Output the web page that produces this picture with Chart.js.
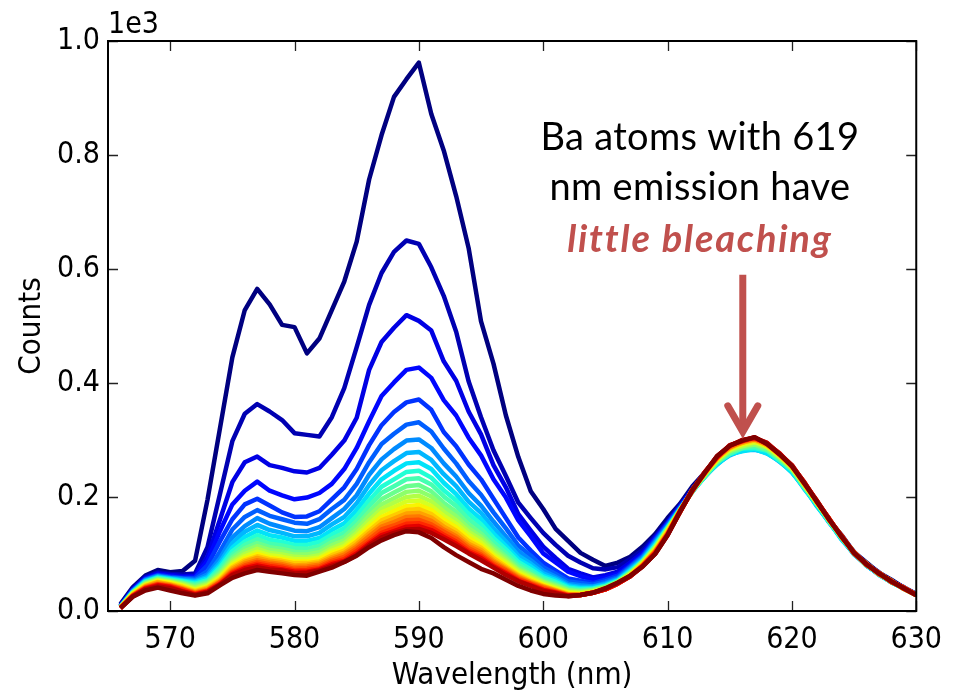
<!DOCTYPE html>
<html><head><meta charset="utf-8">
<script src="https://cdn.jsdelivr.net/npm/chart.js@4.4.1/dist/chart.umd.min.js"></script>
<style>html,body{margin:0;padding:0;background:#fff;}#wrap{width:953px;height:695px;}</style>
</head><body><div id="wrap"><canvas id="c" width="953" height="695"></canvas></div>
<script>
// ---- data ----
const wavelengths = [566,567,568,569,570,571,572,573,574,575,576,577,578,579,580,581,582,583,584,585,586,587,588,589,590,591,592,593,594,595,596,597,598,599,600,601,602,603,604,605,606,607,608,609,610,611,612,613,614,615,616,617,618,619,620,621,622,623,624,625,626,627,628,629,630];
const xTicks = [570,580,590,600,610,620,630];
const yTicks = [0,200,400,600,800,1000];
const xLabel = 'Wavelength (nm)';
const yLabel = 'Counts';
const offsetLabel = '1e3';
const noteLines = ['Ba atoms with 619', 'nm emission have'];
const noteEmph = 'little bleaching';

const spec01 = [12,42,62,72,68,70,88,195,320,445,528,565,538,502,498,452,478,528,578,648,757,835,902,933,962,872,808,728,637,508,434,343,270,210,179,144,123,102,90,79,85,95,113,135,163,188,219,243,267,279,291,292,287,271,251,221,193,159,133,103,85,67,55,41,30];
const spec02 = [10,40,60,68,65,64,66,112,205,298,346,363,350,335,312,309,306,340,391,463,537,593,630,650,644,603,553,490,403,340,282,237,190,163,137,116,97,85,75,73,77,91,107,131,157,186,215,243,264,283,287,292,283,271,248,221,189,161,129,104,82,68,52,42,29];
const spec03 = [9,38,58,66,63,61,62,95,160,226,261,271,256,251,245,243,251,274,299,339,423,472,497,519,509,492,438,404,350,310,256,217,170,141,113,93,74,66,59,63,69,85,102,129,155,184,213,241,261,280,285,290,281,269,247,220,188,160,128,103,81,67,51,41,28];
const spec04 = [9,37,57,64,61,59,60,88,140,187,211,227,211,203,196,199,207,223,249,286,333,377,401,423,427,409,370,343,304,273,231,199,159,131,101,85,69,61,55,59,65,81,99,127,154,183,212,239,259,278,283,288,279,267,246,219,187,159,127,102,80,66,50,41,28];
const spec05 = [9,36,56,63,60,58,58,80,122,161,187,197,185,173,165,166,175,196,217,249,291,326,349,366,371,353,314,289,257,231,197,163,129,106,85,71,57,53,49,55,62,79,97,125,153,182,211,239,259,277,282,287,278,266,245,218,186,158,127,102,80,65,51,40,28];
const spec06 = [8,36,55,62,59,57,56,70,104,143,165,177,167,161,155,153,161,179,195,223,261,293,311,327,331,315,285,259,228,204,173,145,115,97,77,65,52,49,46,52,59,77,95,123,151,181,210,238,258,276,281,286,277,265,244,217,185,157,126,101,80,64,51,40,28];
const spec07 = [8,35,54,61,58,56,54,64,92,129,149,163,153,147,141,140,147,163,179,203,239,266,284,299,301,286,259,236,207,185,157,131,105,89,71,60,48,45,43,49,57,75,93,121,149,180,210,236,259,275,282,285,277,264,245,216,186,156,127,100,80,64,51,39,28];
const spec08 = [8,34,53,60,57,54,52,60,85,119,139,151,142,137,131,131,137,152,165,189,221,247,263,277,279,265,240,219,192,172,145,122,97,83,66,57,45,42,42,47,55,73,91,119,147,178,211,235,259,273,282,283,278,262,245,214,187,155,128,99,81,63,51,39,28];
const spec09 = [7,34,52,59,56,53,50,57,80,111,130,141,133,129,123,123,128,142,154,177,206,231,246,259,261,249,225,205,180,161,136,114,91,78,62,54,43,40,40,45,54,71,89,116,147,179,209,237,257,275,280,284,276,263,243,216,184,156,125,101,79,65,50,40,28];
const spec10 = [7,33,51,58,55,52,48,54,76,105,122,133,125,121,116,116,121,134,145,167,194,218,231,244,246,234,212,194,170,152,128,108,86,73,59,51,41,38,39,44,53,69,88,115,146,177,211,236,261,275,285,286,281,264,247,216,188,156,129,100,82,64,52,39,28];
const spec11 = [7,33,50,57,54,50,46,52,72,99,116,126,118,115,110,109,114,127,137,158,184,207,219,231,233,222,201,184,161,144,121,102,81,69,56,48,39,36,38,43,52,68,87,113,145,176,211,236,262,276,286,288,283,266,249,217,189,157,128,102,80,66,50,40,28];
const spec12 = [7,32,49,56,53,49,44,50,68,94,110,119,112,109,104,103,108,121,130,150,174,196,208,219,221,210,190,174,152,136,114,96,77,65,53,46,37,35,37,42,51,67,86,112,144,178,210,239,261,280,286,292,283,269,248,220,188,160,128,103,81,66,51,40,28];
const spec13 = [7,32,48,55,52,48,42,48,65,90,105,114,107,104,99,99,103,115,124,143,167,187,198,209,211,201,182,166,145,130,109,92,73,63,51,44,36,34,36,41,51,65,87,110,143,175,212,238,265,280,290,292,287,269,251,219,191,158,130,101,83,64,52,39,28];
const spec14 = [6,31,47,54,51,46,40,46,62,86,100,109,102,99,95,94,98,110,119,137,159,179,190,200,202,192,174,159,139,125,105,88,71,60,50,42,34,32,35,40,50,66,84,111,141,177,210,241,264,283,289,296,287,272,250,222,189,161,129,103,81,67,51,41,28];
const spec15 = [6,31,46,53,50,45,38,44,60,83,96,104,98,95,91,91,94,106,114,132,153,173,182,192,194,184,167,153,134,120,100,85,68,58,47,40,33,31,34,40,50,64,84,108,142,175,213,240,267,283,293,296,290,271,253,221,192,159,131,101,83,65,53,39,28];
const spec16 = [6,30,45,52,49,43,36,42,57,80,92,100,94,91,87,87,91,102,110,126,147,165,175,184,186,177,160,147,128,115,96,81,65,55,46,38,31,30,33,39,49,63,83,107,140,176,211,242,266,286,293,300,289,274,252,224,190,161,129,103,81,67,51,41,28];
const spec17 = [6,29,44,51,47,42,35,41,55,77,89,96,91,88,84,84,87,98,106,122,141,159,168,177,179,170,154,141,123,111,93,78,63,53,44,37,30,29,33,39,49,63,82,106,138,174,213,241,269,285,296,299,292,273,254,222,193,160,132,101,83,65,53,39,28];
const spec18 = [6,28,43,50,46,40,33,39,53,74,86,93,88,85,80,81,84,94,102,117,136,153,162,171,172,164,148,136,118,107,89,75,61,51,43,36,29,29,32,39,49,62,81,105,137,176,211,243,268,288,295,302,291,275,253,225,191,162,130,103,81,67,51,41,28];
const spec19 = [6,28,42,48,45,39,32,37,51,71,83,89,85,82,77,78,81,91,99,113,131,148,156,165,166,158,143,131,114,103,86,73,59,50,42,35,28,28,32,38,48,62,80,104,136,174,213,242,271,287,298,301,294,274,255,223,193,160,132,101,83,65,53,39,28];
const spec20 = [5,27,41,47,44,38,31,36,50,69,80,86,82,79,74,75,78,88,95,109,126,143,150,159,160,152,139,127,110,99,83,71,57,48,40,34,28,28,32,38,48,61,80,103,135,176,211,244,269,290,297,304,293,276,254,226,192,162,130,103,81,67,51,41,28];
const spec21 = [5,27,40,46,43,37,30,35,48,67,77,83,79,76,71,72,75,85,91,105,121,137,145,153,154,147,134,122,106,96,80,68,55,47,38,33,27,28,32,38,48,61,79,102,134,173,213,242,272,289,300,303,295,275,256,224,194,160,132,101,83,65,53,39,28];
const spec22 = [5,26,39,45,42,35,29,34,47,65,75,80,76,73,69,69,73,82,88,101,118,133,140,148,149,142,130,118,103,93,78,66,53,45,37,32,27,28,32,38,48,61,79,101,134,175,211,244,270,291,298,305,293,277,254,226,192,162,130,103,81,67,51,41,28];
const spec23 = [5,26,38,43,40,34,28,33,46,63,72,77,73,71,66,67,71,79,86,98,115,129,137,143,144,137,126,114,101,89,76,63,52,44,35,31,26,28,32,39,49,61,78,100,133,174,213,243,272,290,300,304,295,276,256,225,194,161,132,102,82,66,52,40,28];
const spec24 = [5,25,36,41,36,31,27,31,45,58,66,72,69,66,63,62,69,76,86,97,112,124,133,140,138,128,112,98,86,74,66,55,44,36,30,27,26,28,32,40,50,62,78,100,133,174,212,243,272,290,299,305,293,275,254,224,192,160,130,102,82,66,52,40,28];

const spectra = [spec01,spec02,spec03,spec04,spec05,spec06,spec07,spec08,spec09,spec10,spec11,spec12,spec13,spec14,spec15,spec16,spec17,spec18,spec19,spec20,spec21,spec22,spec23,spec24];

// ---- styling ----
const FONT = "'DejaVu Sans Condensed','DejaVu Sans',sans-serif";
const NOTE_FONT = "Lato,'Open Sans',sans-serif";
const NOTE_RED = '#C0504D';

function jet(t){
  const seg = pts => {
    for (let k = 0; k < pts.length - 1; k++) {
      const [x0,y0] = pts[k], [x1,y1] = pts[k+1];
      if (t <= x1) return y0 + (y1 - y0) * (t - x0) / (x1 - x0);
    }
    return pts[pts.length-1][1];
  };
  const r = seg([[0,0],[0.35,0],[0.66,1],[0.89,1],[1,0.5]]);
  const g = seg([[0,0],[0.125,0],[0.375,1],[0.64,1],[0.91,0],[1,0]]);
  const b = seg([[0,0.5],[0.11,1],[0.34,1],[0.65,0],[1,0]]);
  return `rgb(${Math.round(r*255)},${Math.round(g*255)},${Math.round(b*255)})`;
}

const N = spectra.length;
const datasets = spectra.map((s,i) => ({
  data: wavelengths.map((w,j) => ({x:w, y:s[j]})),
  borderColor: jet(i/(N-1)),
  borderWidth: 4.5,
  pointRadius: 0,
  fill: false,
  tension: 0,
  borderJoinStyle: 'round',
  order: N-1-i
}));

const framePlugin = {
  id: 'frame',
  afterDatasetsDraw(chart){
    const {ctx, chartArea:{left,right,top,bottom}, scales:{x,y}} = chart;
    ctx.save();
    ctx.strokeStyle = '#222'; ctx.lineWidth = 1.3;
    ctx.beginPath();
    xTicks.forEach(v => {
      const px = Math.round(x.getPixelForValue(v)) + 0.5;
      ctx.moveTo(px, bottom); ctx.lineTo(px, bottom - 10);
      ctx.moveTo(px, top); ctx.lineTo(px, top + 10);
    });
    yTicks.forEach(v => {
      const py = Math.round(y.getPixelForValue(v)) + 0.5;
      ctx.moveTo(left, py); ctx.lineTo(left + 10, py);
      ctx.moveTo(right, py); ctx.lineTo(right - 10, py);
    });
    ctx.stroke();
    ctx.strokeStyle = '#000'; ctx.lineWidth = 2;
    ctx.strokeRect(left, top, right - left, bottom - top);
    ctx.fillStyle = '#000';
    ctx.font = `30px ${FONT}`;
    ctx.textAlign = 'left'; ctx.textBaseline = 'alphabetic';
    ctx.fillText(offsetLabel, left, top - 8);
    const cx = x.getPixelForValue(612.6);
    ctx.textAlign = 'center';
    ctx.font = `38px ${NOTE_FONT}`;
    ctx.letterSpacing = '0.3px';
    ctx.fillText(noteLines[0], cx, y.getPixelForValue(809));
    ctx.fillText(noteLines[1], cx, y.getPixelForValue(721));
    ctx.fillStyle = NOTE_RED;
    ctx.font = `italic bold 38px ${NOTE_FONT}`;
    ctx.letterSpacing = '1.8px';
    ctx.fillText(noteEmph, cx, y.getPixelForValue(630));
    ctx.letterSpacing = '0px';
    const ax = x.getPixelForValue(616.05);
    const y0 = y.getPixelForValue(590), y1 = y.getPixelForValue(309);
    ctx.strokeStyle = NOTE_RED; ctx.lineWidth = 7; ctx.lineCap = 'butt';
    ctx.beginPath(); ctx.moveTo(ax, y0); ctx.lineTo(ax, y1 - 4); ctx.stroke();
    ctx.lineCap = 'round'; ctx.lineJoin = 'miter';
    ctx.beginPath(); ctx.moveTo(ax - 15, y1 - 29); ctx.lineTo(ax, y1 - 3); ctx.lineTo(ax + 15, y1 - 29); ctx.stroke();
    ctx.restore();
  }
};

new Chart(document.getElementById('c'), {
  type: 'line',
  data: { datasets },
  plugins: [framePlugin],
  options: {
    responsive: false, animation: false, devicePixelRatio: 1,
    layout: { padding: { left: 0, top: 41, right: 32, bottom: 0 } },
    plugins: { legend: { display: false }, tooltip: { enabled: false } },
    scales: {
      x: {
        type: 'linear', min: 565, max: 630,
        afterBuildTicks: s => { s.ticks = xTicks.map(v => ({value: v})); },
        afterFit: s => { s.height = 84; },
        grid: { display: false, drawTicks: false }, border: { display: false },
        ticks: { color: '#000', font: { family: FONT, size: 30 }, padding: 11, maxRotation: 0, autoSkip: false, callback: v => String(v) },
        title: { display: true, text: xLabel, color: '#000', font: { family: FONT, size: 31 }, padding: 0 }
      },
      y: {
        type: 'linear', min: 0, max: 1000,
        afterBuildTicks: s => { s.ticks = yTicks.map(v => ({value: v})); },
        afterFit: s => { s.width = 108; },
        grid: { display: false, drawTicks: false }, border: { display: false },
        ticks: { color: '#000', font: { family: FONT, size: 30 }, padding: 8, autoSkip: false, callback: v => (v/1000).toFixed(1) },
        title: { display: true, text: yLabel, color: '#000', font: { family: FONT, size: 31 }, padding: { top: 13, bottom: 0 } }
      }
    }
  }
});
</script></body></html>
